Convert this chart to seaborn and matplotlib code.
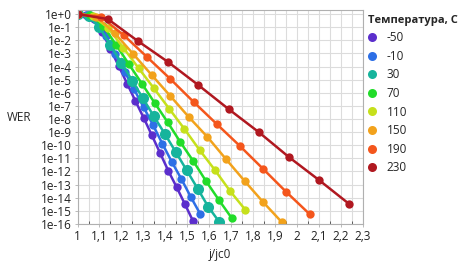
import numpy as np
import pandas as pd
import seaborn as sns
from matplotlib import pyplot as plt
from matplotlib.lines import Line2D
from matplotlib.ticker import FixedLocator, FuncFormatter, MultipleLocator

sns.set_theme(style='white')
plt.rcParams['font.family'] = ['Open Sans', 'DejaVu Sans']

temps = ['-50', '-10', '30', '70', '110', '150', '190', '230']
colors = ['#5b2ecc', '#2d6fe6', '#16b49c', '#22dc2a', '#c6e01c', '#f2a21c', '#f4561c', '#b01820']

# j/jc0 values per temperature
x_m50 = [1.0, 1.038, 1.075, 1.113, 1.150, 1.188, 1.226, 1.263, 1.301, 1.338, 1.376, 1.414, 1.451, 1.489, 1.526]
x_m10 = [1.0, 1.043, 1.086, 1.129, 1.172, 1.215, 1.258, 1.301, 1.344, 1.387, 1.43, 1.473, 1.516, 1.559]
x_30 = [1.0, 1.05, 1.099, 1.149, 1.199, 1.249, 1.298, 1.348, 1.398, 1.447, 1.497, 1.547, 1.596, 1.646]
x_70 = [1.0, 1.059, 1.117, 1.176, 1.234, 1.293, 1.351, 1.41, 1.468, 1.527, 1.585, 1.644, 1.702]
x_110 = [1.0, 1.07, 1.139, 1.209, 1.278, 1.348, 1.417, 1.487, 1.556, 1.626, 1.695, 1.765]
x_150 = [1.0, 1.085, 1.169, 1.254, 1.338, 1.423, 1.507, 1.592, 1.676, 1.761, 1.845, 1.93]
x_190 = [1.0, 1.106, 1.211, 1.317, 1.423, 1.529, 1.634, 1.74, 1.846, 1.951, 2.057]
x_230 = [1.0, 1.138, 1.275, 1.413, 1.55, 1.688, 1.825, 1.963, 2.1, 2.238]

# log10(WER) per temperature
lw_m50 = [0, -0.05, -0.35, -1.4, -2.67, -3.98, -5.3, -6.6, -7.9, -9.22, -10.59, -11.96, -13.18, -14.48, -15.77]
lw_m10 = [0, -0.05, -0.45, -1.7, -3.05, -4.4, -5.75, -7.1, -8.46, -9.9, -11.28, -12.57, -13.94, -15.24]
lw_30 = [0, -0.15, -1.0, -2.35, -3.7, -5.07, -6.43, -7.8, -9.14, -10.5, -11.9, -13.3, -14.7, -15.85]
lw_70 = [0, -0.1, -0.9, -2.36, -3.82, -5.3, -6.76, -8.23, -9.75, -11.2, -12.72, -14.17, -15.54]
lw_110 = [0, -0.15, -1.05, -2.58, -4.12, -5.66, -7.2, -8.76, -10.36, -11.89, -13.49, -14.93]
lw_150 = [0, -0.2, -1.45, -3.05, -4.65, -6.25, -7.85, -9.37, -11.05, -12.72, -14.32, -15.85]
lw_190 = [0, -0.2, -1.62, -3.28, -4.95, -6.7, -8.38, -10.06, -11.81, -13.56, -15.24]
lw_230 = [0, -0.38, -2.06, -3.66, -5.41, -7.24, -8.99, -10.9, -12.65, -14.48]

xs = [x_m50, x_m10, x_30, x_70, x_110, x_150, x_190, x_230]
lws = [lw_m50, lw_m10, lw_30, lw_70, lw_110, lw_150, lw_190, lw_230]

frames = []
for t, x, lw in zip(temps, xs, lws):
    frames.append(pd.DataFrame({'j': x, 'wer': 10.0 ** np.array(lw), 'T': t}))
df = pd.concat(frames, ignore_index=True)

fig = plt.figure(figsize=(4.7, 2.66), dpi=100)
ax = fig.add_axes([0.165, 0.158, 0.607, 0.804])

for t, c in zip(temps, colors):
    ms = 8 if t == '30' else 6
    sns.lineplot(data=df[df['T'] == t], x='j', y='wer', color=c, marker='o',
                 markersize=ms, markeredgewidth=0, linewidth=1.8, ax=ax,
                 legend=False, estimator=None, sort=False)

ax.set_yscale('log')
ax.set_xlim(1, 2.3)
ax.set_ylim(1e-16, 2)
ax.yaxis.set_major_locator(FixedLocator([10.0 ** e for e in range(-16, 1)]))
ax.yaxis.set_minor_locator(FixedLocator([]))
ax.yaxis.set_major_formatter(FuncFormatter(lambda v, p: '1e%+d' % int(round(np.log10(v)))))
ax.xaxis.set_major_locator(MultipleLocator(0.1))
ax.xaxis.set_minor_locator(MultipleLocator(0.05))
ax.xaxis.set_major_formatter(FuncFormatter(lambda v, p: ('%g' % round(v, 1)).replace('.', ',')))

ax.grid(True, which='both', axis='x', color='#dcdcdc', linewidth=0.8)
ax.grid(True, which='major', axis='y', color='#dcdcdc', linewidth=0.8)
ax.set_axisbelow(True)
for s in ax.spines.values():
    s.set_color('#b0b0b0')
    s.set_linewidth(0.8)

ax.tick_params(axis='both', which='major', labelsize=8.5, colors='#222222', length=2.5,
               width=0.6, pad=1.5, left=True, bottom=True)
ax.tick_params(axis='x', which='minor', length=2, width=0.5, bottom=True, direction='in')
ax.tick_params(axis='y', which='major', color='#b0b0b0')
ax.tick_params(axis='x', which='major', color='#b0b0b0')

ax.set_xlabel('j/jc0', fontsize=8.5, labelpad=4)
ax.set_ylabel('WER', fontsize=8.5, rotation=0, labelpad=16, va='center')

handles = [Line2D([], [], linestyle='none', marker='o', markersize=6.5, markeredgewidth=0,
                  color=c) for c in colors]
leg = ax.legend(handles, temps, title='Температура, С', loc='upper left',
                bbox_to_anchor=(1.0, 1.0), frameon=False, fontsize=8.5,
                title_fontproperties={'weight': 'bold', 'size': 8},
                handletextpad=0.9, labelspacing=0.47, borderaxespad=0,
                handlelength=0.7)
leg._legend_box.align = 'left'

fig.savefig('out.png', dpi=100)
plt.close(fig)
